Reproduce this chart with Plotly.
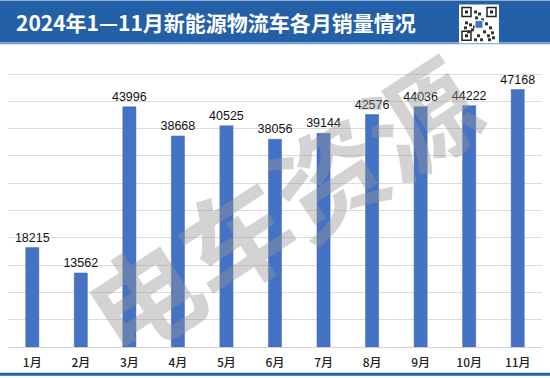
import plotly.graph_objects as go

months = ["1月", "2月", "3月", "4月", "5月", "6月", "7月", "8月", "9月", "10月", "11月"]
sales = [18215, 13562, 43996, 38668, 40525, 38056, 39144, 42576, 44036, 44222, 47168]
title_text = "2024年1—11月新能源物流车各月销量情况"
watermark = "电车资源"

W, H = 550, 378
ML, MR, MT, MB = 8, 8, 73, 29
PW, PH = W - ML - MR, H - MT - MB


def px(x):
    return (x - ML) / PW


def py(y):
    return 1 - (y - MT) / PH


fig = go.Figure()
fig.add_trace(go.Bar(
    x=months, y=sales,
    marker=dict(color="#4472C4", line=dict(color="#3d67b3", width=0.5)),
    text=[str(v) for v in sales], textposition="outside", constraintext="none",
    textfont=dict(family="Liberation Sans, Arial", size=12.5, color="#111111"),
    cliponaxis=False, hoverinfo="skip",
))

shapes = []
# header band
shapes.append(dict(type="rect", xref="paper", yref="paper", x0=px(0), x1=px(W), y0=py(42), y1=py(0),
                   fillcolor="#2460a7", line=dict(width=0), layer="above"))
shapes.append(dict(type="rect", xref="paper", yref="paper", x0=px(0), x1=px(W), y0=py(44), y1=py(42),
                   fillcolor="#6f9ad0", line=dict(width=0), layer="above"))
# bottom band
shapes.append(dict(type="rect", xref="paper", yref="paper", x0=px(0), x1=px(W), y0=py(378), y1=py(375),
                   fillcolor="#2460a7", line=dict(width=0), layer="above"))
# QR code block
qx0, qx1, qy0, qy1 = 459, 499, 4, 43
shapes.append(dict(type="rect", xref="paper", yref="paper", x0=px(qx0), x1=px(qx1), y0=py(qy1), y1=py(qy0),
                   fillcolor="white", line=dict(width=0), layer="above"))
for (cx, cy) in [(qx0 + 3, qy0 + 3), (qx1 - 12, qy0 + 3), (qx0 + 3, qy1 - 12)]:
    shapes.append(dict(type="rect", xref="paper", yref="paper", x0=px(cx), x1=px(cx + 9), y0=py(cy + 9), y1=py(cy),
                       fillcolor="white", line=dict(color="#222222", width=1.5), layer="above"))
    shapes.append(dict(type="rect", xref="paper", yref="paper", x0=px(cx + 3), x1=px(cx + 6), y0=py(cy + 6), y1=py(cy + 3),
                       fillcolor="#222222", line=dict(width=0), layer="above"))
pattern = [(15, 6), (19, 8), (16, 12), (22, 14), (6, 17), (10, 19), (14, 21), (26, 18), (30, 22), (24, 26),
           (28, 30), (32, 27), (18, 30), (15, 34), (21, 34), (29, 34), (33, 32), (12, 24), (5, 22), (8, 26)]
for (dx, dy) in pattern:
    shapes.append(dict(type="rect", xref="paper", yref="paper", x0=px(qx0 + dx), x1=px(qx0 + dx + 3),
                       y0=py(qy0 + dy + 3), y1=py(qy0 + dy), fillcolor="#333333", line=dict(width=0), layer="above"))
shapes.append(dict(type="rect", xref="paper", yref="paper", x0=px(qx0 + 16), x1=px(qx0 + 24), y0=py(qy0 + 24), y1=py(qy0 + 16),
                   fillcolor="#3b78c8", line=dict(color="white", width=1), layer="above"))

annotations = [
    dict(text=title_text, xref="paper", yref="paper", x=px(14), y=py(22), xanchor="left", yanchor="middle",
         showarrow=False, font=dict(family="Noto Sans CJK SC", size=21, color="white", weight="bold")),
    dict(text=watermark, xref="paper", yref="paper", x=px(280), y=py(205), xanchor="center", yanchor="middle",
         showarrow=False, textangle=-33,
         font=dict(family="Noto Sans CJK SC", size=110, color="rgba(150,150,150,0.42)", weight="bold")),
]

fig.update_layout(
    width=W, height=H,
    margin=dict(l=ML, r=MR, t=MT, b=MB, pad=0),
    paper_bgcolor="white", plot_bgcolor="white",
    bargap=0.73, showlegend=False,
    shapes=shapes, annotations=annotations,
    xaxis=dict(showgrid=False, showline=False, ticks="", ticklabelstandoff=7,
               tickfont=dict(family="Noto Sans CJK SC", size=12, color="#222222", weight=500),
               fixedrange=True),
    yaxis=dict(range=[0, 50200], dtick=5000, showgrid=True, gridcolor="#dcdcdc", gridwidth=1,
               zeroline=True, zerolinecolor="#d0d0d0", zerolinewidth=1,
               showticklabels=False, ticks="", fixedrange=True),
)

fig.write_html("out.html", config={"displayModeBar": False, "staticPlot": True},
               post_script="document.body.style.margin='0';document.body.style.overflow='hidden';")
